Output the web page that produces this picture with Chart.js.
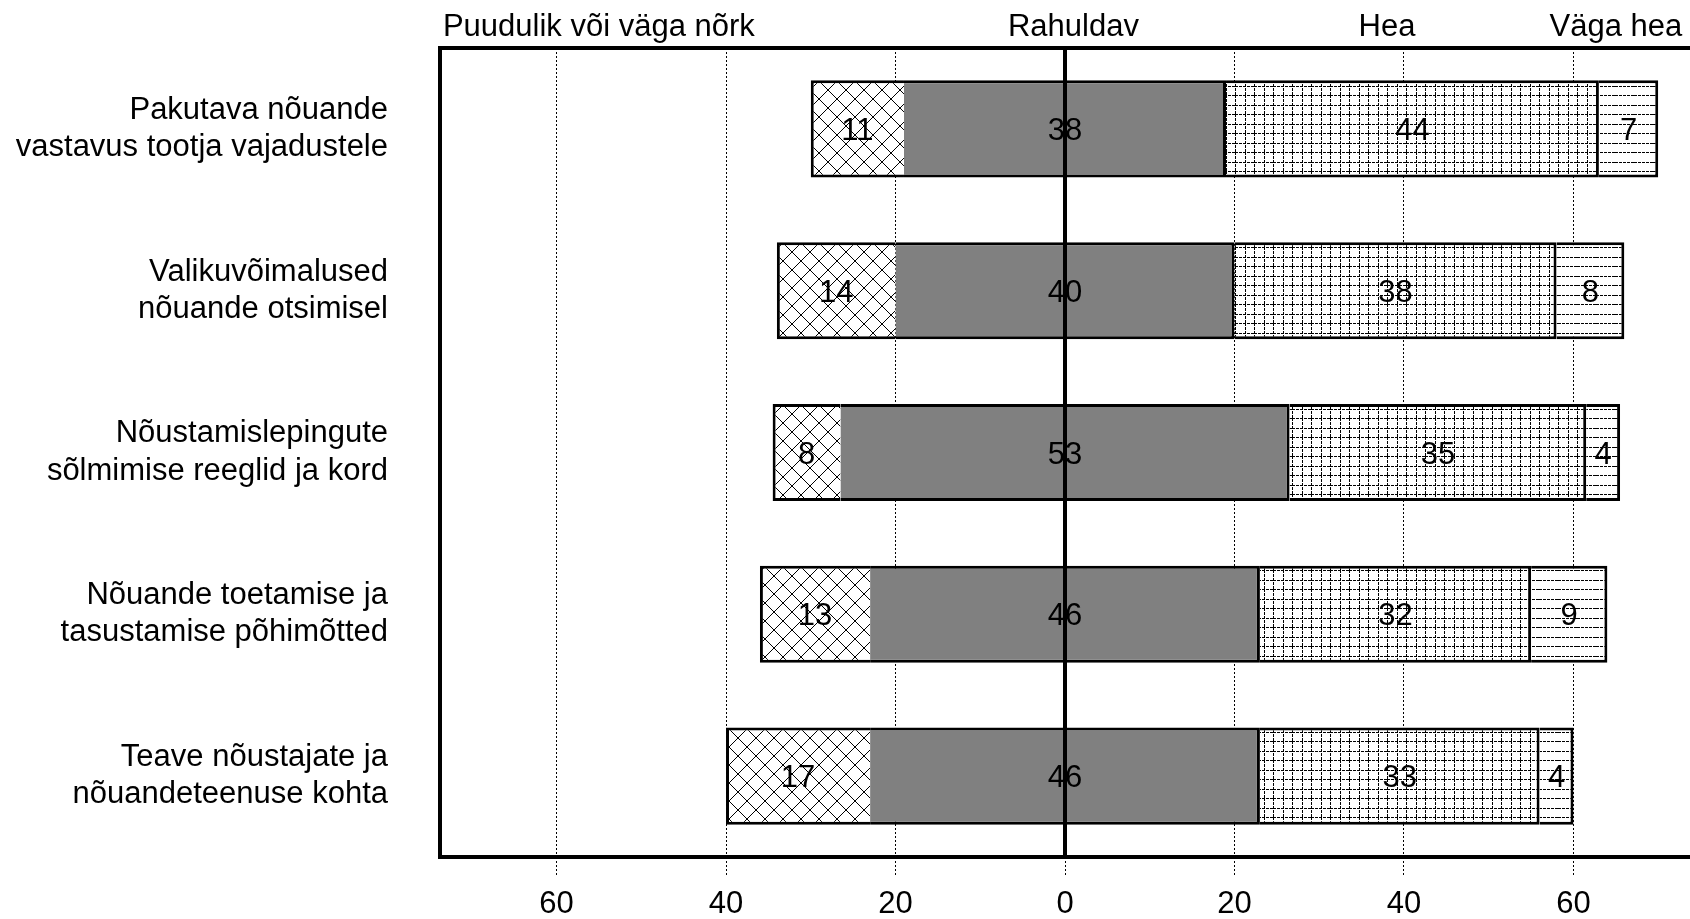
<!DOCTYPE html>
<html>
<head>
<meta charset="utf-8">
<title>Nõuande hinnangud</title>
<script src="https://cdn.jsdelivr.net/npm/chart.js@4.4.0/dist/chart.umd.min.js"></script>
<style>
  html, body { margin: 0; padding: 0; background: #fff; }
  #wrap { width: 1690px; height: 919px; }
</style>
</head>
<body>
<div id="wrap"><canvas id="chart" width="1690" height="919"></canvas></div>
<script>
const categories = [
    ['Pakutava nõuande', 'vastavus tootja vajadustele'],
    ['Valikuvõimalused', 'nõuande otsimisel'],
    ['Nõustamislepingute', 'sõlmimise reeglid ja kord'],
    ['Nõuande toetamise ja', 'tasustamise põhimõtted'],
    ['Teave nõustajate ja', 'nõuandeteenuse kohta']
];
const seriesNames = ['Puudulik või väga nõrk', 'Rahuldav', 'Hea', 'Väga hea'];
const puudulik = [11, 14, 8, 13, 17];
const rahuldav = [38, 40, 53, 46, 46];
const hea = [44, 38, 35, 32, 33];
const vagaHea = [7, 8, 4, 9, 4];
const tickValues = [-60, -40, -20, 0, 20, 40, 60];

const FONT = '"Liberation Sans", Arial, sans-serif';
const canvas = document.getElementById('chart');
const ctx = canvas.getContext('2d');

function makePattern(size, draw) {
    const c = document.createElement('canvas');
    c.width = size;
    c.height = size;
    const g = c.getContext('2d');
    g.fillStyle = '#fff';
    g.fillRect(0, 0, size, size);
    draw(g, size);
    return ctx.createPattern(c, 'repeat');
}

const crossHatch = makePattern(18, (g, s) => {
    g.strokeStyle = '#000';
    g.lineWidth = 1;
    g.beginPath();
    g.moveTo(-2, -2); g.lineTo(s + 2, s + 2);
    g.moveTo(s + 2, -2); g.lineTo(-2, s + 2);
    g.stroke();
});

// dashed lines, twice per tile so the spacing averages 9.5px
const fineGrid = makePattern(19, (g, s) => {
    g.fillStyle = '#000';
    for (let t = 0; t < s; t++) {
        if (t % 4 === 3) continue;
        [0, 10].forEach(p => {
            g.fillRect(t, p, 1, 1);
            g.fillRect(p, t, 1, 1);
        });
    }
});

const hLines = makePattern(19, (g, s) => {
    g.fillStyle = '#000';
    for (let t = 0; t < s; t++) {
        if (t % 4 === 3) continue;
        [0, 10].forEach(p => g.fillRect(t, p, 1, 1));
    }
});

// Rahuldav is centred on zero, the rest stack outwards from it
const puudulikBars = puudulik.map((p, i) => [-rahuldav[i] / 2 - p, -rahuldav[i] / 2]);
const rahuldavBars = rahuldav.map(r => [-r / 2, r / 2]);
const heaBars = hea.map((h, i) => [rahuldav[i] / 2, rahuldav[i] / 2 + h]);
const vagaHeaBars = vagaHea.map((v, i) => [rahuldav[i] / 2 + hea[i], rahuldav[i] / 2 + hea[i] + v]);

function dataset(label, data, values, fill, left, right) {
    return {
        label: label,
        data: data,
        values: values,
        backgroundColor: fill,
        borderColor: '#000',
        borderWidth: { top: 3, bottom: 3, left: left, right: right },
        borderSkipped: false,
        grouped: false,
        barPercentage: 0.6,
        categoryPercentage: 1
    };
}

const overlay = {
    id: 'overlay',
    afterDatasetsDraw(chart) {
        const c = chart.ctx;
        const a = chart.chartArea;
        const x = chart.scales.x;
        c.save();

        // zero line
        const x0 = x.getPixelForValue(0);
        c.strokeStyle = '#000';
        c.lineWidth = 4;
        c.beginPath();
        c.moveTo(x0, a.top);
        c.lineTo(x0, a.bottom);
        c.stroke();

        // values in the segments
        c.font = '31px ' + FONT;
        c.fillStyle = '#000';
        c.textAlign = 'center';
        c.textBaseline = 'alphabetic';
        chart.data.datasets.forEach((ds, d) => {
            chart.getDatasetMeta(d).data.forEach((bar, i) => {
                const p = bar.getCenterPoint();
                c.fillText(ds.values[i], p.x, p.y + 11);
            });
        });

        // frame (right side falls off the canvas)
        c.lineWidth = 4;
        c.lineJoin = 'miter';
        c.beginPath();
        c.moveTo(a.right + 4, a.top);
        c.lineTo(a.left, a.top);
        c.lineTo(a.left, a.bottom);
        c.lineTo(a.right + 4, a.bottom);
        c.stroke();

        // category headers above the frame
        const headerAt = [-55, 1, 38, 65];
        seriesNames.forEach((name, k) => {
            c.fillText(name, x.getPixelForValue(headerAt[k]), 36);
        });
        c.restore();
    }
};

const chart = new Chart(ctx, {
    type: 'bar',
    data: {
        labels: categories,
        datasets: [
            dataset(seriesNames[0], puudulikBars, puudulik, crossHatch, 3, 0),
            dataset(seriesNames[1], rahuldavBars, rahuldav, '#808080', 0, 3),
            dataset(seriesNames[2], heaBars, hea, fineGrid, 0, 3),
            dataset(seriesNames[3], vagaHeaBars, vagaHea, hLines, 0, 3)
        ]
    },
    options: {
        indexAxis: 'y',
        responsive: false,
        animation: false,
        layout: {
            padding: { top: 48, left: 0, right: 0, bottom: 0 }
        },
        plugins: {
            legend: { display: false },
            tooltip: { enabled: false }
        },
        scales: {
            x: {
                min: -73.75,
                max: 73.75,
                afterBuildTicks: axis => {
                    axis.ticks = tickValues.map(v => ({ value: v }));
                },
                afterFit: axis => {
                    axis.height = 62;
                    axis.paddingLeft = 0;
                    axis.paddingRight = 0;
                },
                ticks: {
                    callback: v => Math.abs(v),
                    color: '#000',
                    padding: 11,
                    maxRotation: 0,
                    font: { family: FONT, size: 31 }
                },
                grid: {
                    color: '#000',
                    lineWidth: 1,
                    tickLength: 18,
                    tickColor: '#000',
                    tickWidth: 1,
                    tickBorderDash: [2, 2]
                },
                border: { display: false, dash: [2, 2] }
            },
            y: {
                afterFit: axis => {
                    axis.width = 440;
                    axis.paddingTop = 0;
                    axis.paddingBottom = 0;
                },
                ticks: {
                    color: '#000',
                    padding: 52,
                    font: { family: FONT, size: 31, lineHeight: 1.2 }
                },
                grid: { display: false, drawTicks: false },
                border: { display: false }
            }
        }
    },
    plugins: [overlay]
});
</script>
</body>
</html>
